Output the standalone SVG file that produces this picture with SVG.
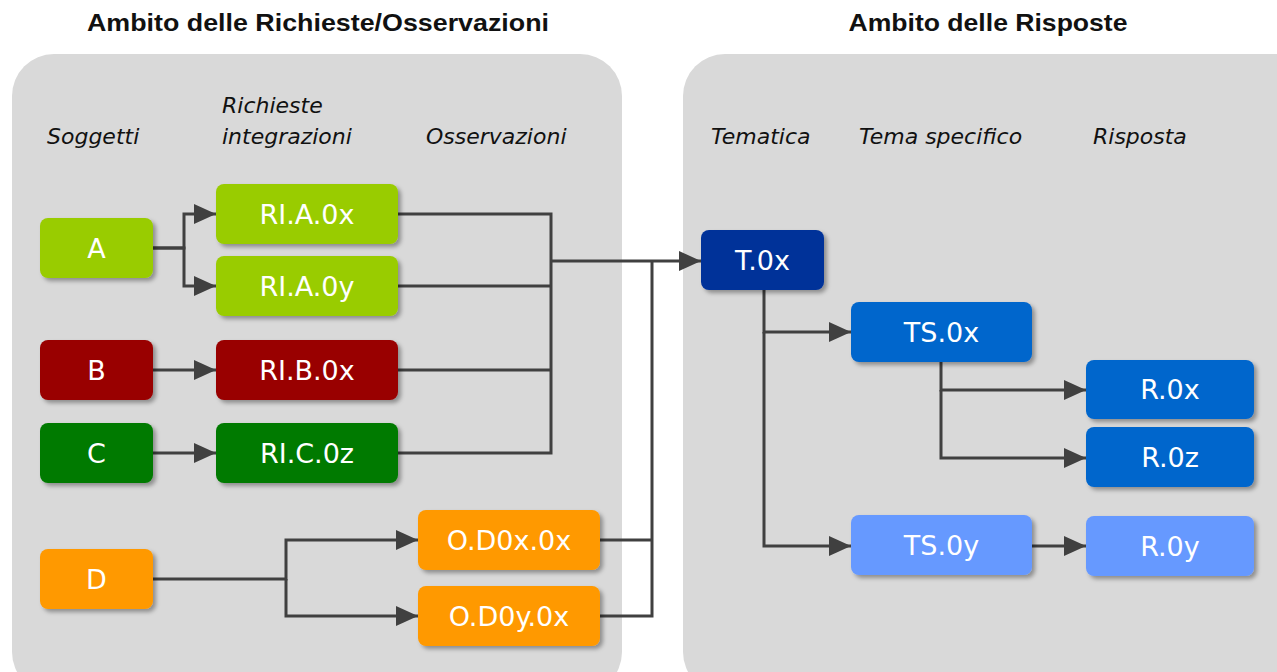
<svg xmlns="http://www.w3.org/2000/svg" width="1277" height="672" viewBox="0 0 1277 672">
<style>
.title{font-family:"Liberation Sans",Arial,sans-serif;font-weight:bold;font-size:24px;fill:#111;}
.hdr{font-family:"DejaVu Sans",Verdana,sans-serif;font-style:italic;font-size:22px;fill:#111;}
.lbl{font-family:"DejaVu Sans",Verdana,sans-serif;font-size:27px;fill:#fff;text-anchor:middle;}
.panel{fill:#d9d9d9;}
.conn{fill:none;stroke:#404040;stroke-width:3;}
.arr{marker-end:url(#ah);}
</style>
<defs>
<filter id="sh" x="-10%" y="-10%" width="130%" height="140%">
<feDropShadow dx="3" dy="3" stdDeviation="2" flood-color="#000" flood-opacity="0.35"/>
</filter>
<marker id="ah" markerUnits="userSpaceOnUse" markerWidth="22" markerHeight="20" refX="22" refY="10" orient="auto">
<path d="M0,0 L22,10 L0,20 z" fill="#404040"/>
</marker>
</defs>
<rect width="1277" height="672" fill="#fff"/>
<g id="panel-left">
<rect class="panel" x="12" y="54" width="610" height="640" rx="42"/>
<text class="title" x="318" y="31" text-anchor="middle" textLength="462" lengthAdjust="spacingAndGlyphs">Ambito delle Richieste/Osservazioni</text>
<text class="hdr" x="47" y="144">Soggetti</text>
<text class="hdr" x="222" y="113">Richieste</text>
<text class="hdr" x="222" y="144">integrazioni</text>
<text class="hdr" x="426" y="144">Osservazioni</text>
</g>
<g id="panel-right">
<rect class="panel" x="683" y="54" width="640" height="640" rx="42"/>
<text class="title" x="988" y="31" text-anchor="middle" textLength="279" lengthAdjust="spacingAndGlyphs">Ambito delle Risposte</text>
<text class="hdr" x="711" y="144">Tematica</text>
<text class="hdr" x="859" y="144">Tema specifico</text>
<text class="hdr" x="1093" y="144">Risposta</text>
</g>
<g id="connectors">
<path class="conn arr" d="M153,248 H184 V214 H216"/>
<path class="conn arr" d="M153,248 H184 V286 H216"/>
<path class="conn" d="M398,214 H551 V453 H398"/>
<path class="conn" d="M398,286 H551"/>
<path class="conn" d="M398,370 H551"/>
<path class="conn arr" d="M551,261 H701"/>
<path class="conn" d="M600,540 H652"/>
<path class="conn" d="M600,616 H652 V261"/>
<path class="conn arr" d="M153,370 H216"/>
<path class="conn arr" d="M153,453 H216"/>
<path class="conn arr" d="M153,579 H286 V540 H418"/>
<path class="conn arr" d="M286,579 V616 H418"/>
<path class="conn arr" d="M764,290 V332 H851"/>
<path class="conn arr" d="M764,332 V546 H851"/>
<path class="conn arr" d="M941,362 V390 H1086"/>
<path class="conn arr" d="M941,390 V458 H1086"/>
<path class="conn arr" d="M1032,546 H1086"/>
</g>
<g id="node-A"><rect x="40" y="218" width="113" height="60" rx="8" fill="#99cc00" filter="url(#sh)"/><text class="lbl" x="96.5" y="257.5">A</text></g>
<g id="node-RIA0x"><rect x="216" y="184" width="182" height="60" rx="8" fill="#99cc00" filter="url(#sh)"/><text class="lbl" x="307" y="223.5">RI.A.0x</text></g>
<g id="node-RIA0y"><rect x="216" y="256" width="182" height="60" rx="8" fill="#99cc00" filter="url(#sh)"/><text class="lbl" x="307" y="295.5">RI.A.0y</text></g>
<g id="node-B"><rect x="40" y="340" width="113" height="60" rx="8" fill="#990000" filter="url(#sh)"/><text class="lbl" x="96.5" y="379.5">B</text></g>
<g id="node-RIB0x"><rect x="216" y="340" width="182" height="60" rx="8" fill="#990000" filter="url(#sh)"/><text class="lbl" x="307" y="379.5">RI.B.0x</text></g>
<g id="node-C"><rect x="40" y="423" width="113" height="60" rx="8" fill="#007a00" filter="url(#sh)"/><text class="lbl" x="96.5" y="462.5">C</text></g>
<g id="node-RIC0z"><rect x="216" y="423" width="182" height="60" rx="8" fill="#007a00" filter="url(#sh)"/><text class="lbl" x="307" y="462.5">RI.C.0z</text></g>
<g id="node-D"><rect x="40" y="549" width="113" height="60" rx="8" fill="#ff9900" filter="url(#sh)"/><text class="lbl" x="96.5" y="588.5">D</text></g>
<g id="node-OD0x"><rect x="418" y="510" width="182" height="60" rx="8" fill="#ff9900" filter="url(#sh)"/><text class="lbl" x="509" y="549.5">O.D0x.0x</text></g>
<g id="node-OD0y"><rect x="418" y="586" width="182" height="60" rx="8" fill="#ff9900" filter="url(#sh)"/><text class="lbl" x="509" y="625.5">O.D0y.0x</text></g>
<g id="node-T0x"><rect x="701" y="230" width="123" height="60" rx="8" fill="#003399" filter="url(#sh)"/><text class="lbl" x="762.5" y="269.5">T.0x</text></g>
<g id="node-TS0x"><rect x="851" y="302" width="181" height="60" rx="8" fill="#0066cc" filter="url(#sh)"/><text class="lbl" x="941.5" y="341.5">TS.0x</text></g>
<g id="node-R0x"><rect x="1086" y="360" width="168" height="59" rx="8" fill="#0066cc" filter="url(#sh)"/><text class="lbl" x="1170" y="399">R.0x</text></g>
<g id="node-R0z"><rect x="1086" y="427" width="168" height="60" rx="8" fill="#0066cc" filter="url(#sh)"/><text class="lbl" x="1170" y="466.5">R.0z</text></g>
<g id="node-TS0y"><rect x="851" y="515" width="181" height="60" rx="8" fill="#6699ff" filter="url(#sh)"/><text class="lbl" x="941.5" y="554.5">TS.0y</text></g>
<g id="node-R0y"><rect x="1086" y="516" width="168" height="60" rx="8" fill="#6699ff" filter="url(#sh)"/><text class="lbl" x="1170" y="555.5">R.0y</text></g>
</svg>
